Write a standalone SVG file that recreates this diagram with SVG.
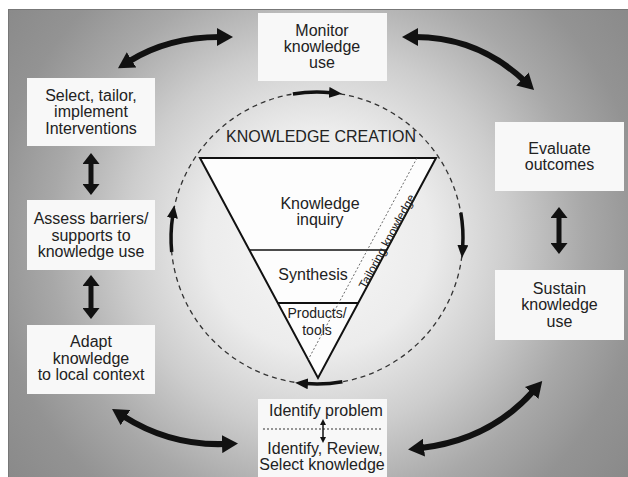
<svg xmlns="http://www.w3.org/2000/svg" width="628" height="477" viewBox="0 0 628 477">
<style>
.t{font-family:"Liberation Sans",Arial,sans-serif;font-size:16px;fill:#222;text-anchor:middle}
.box{fill:#f8f8f8}
.big{fill:none;stroke:#111;stroke-width:6}
.mid{fill:none;stroke:#111;stroke-width:5}
.cir{fill:none;stroke:#111;stroke-width:3.5}
</style>
<defs>
<radialGradient id="bg" gradientUnits="userSpaceOnUse" cx="318" cy="240" r="400">
<stop offset="0" stop-color="#f8f8f8"/>
<stop offset="0.28" stop-color="#ececec"/>
<stop offset="0.48" stop-color="#cdcdcd"/>
<stop offset="0.67" stop-color="#a8a8a8"/>
<stop offset="0.82" stop-color="#939393"/>
<stop offset="1" stop-color="#888"/>
</radialGradient>
<marker id="hb" markerUnits="userSpaceOnUse" viewBox="0 0 16 18" markerWidth="16" markerHeight="18" refX="3" refY="9" orient="auto-start-reverse"><path d="M0,0 L16,9 L0,18 z" fill="#111"/></marker>
<marker id="hm" markerUnits="userSpaceOnUse" viewBox="0 0 11 17" markerWidth="11" markerHeight="17" refX="2" refY="8.5" orient="auto-start-reverse"><path d="M0,0 L11,8.5 L0,17 z" fill="#111"/></marker>
<marker id="hs" markerUnits="userSpaceOnUse" viewBox="0 0 13 11" markerWidth="13" markerHeight="11" refX="2" refY="5.5" orient="auto"><path d="M0,0 L13,5.5 L0,11 z" fill="#111"/></marker>
<marker id="ht" markerUnits="userSpaceOnUse" viewBox="0 0 6 6" markerWidth="6" markerHeight="6" refX="1" refY="3" orient="auto-start-reverse"><path d="M0,0 L6,3 L0,6 z" fill="#111"/></marker>
</defs>
<rect x="0" y="0" width="628" height="477" fill="#fff"/>
<rect x="8.5" y="9.5" width="625" height="475" fill="url(#bg)" stroke="#777" stroke-width="1"/>

<g id="knowledge-creation">
<circle cx="317" cy="238" r="146" fill="none" stroke="#333" stroke-width="1.3" stroke-dasharray="5 4"/>
<polygon points="200,158 436,158 318,378" fill="#fdfdfd" stroke="#111" stroke-width="2"/>
<line x1="249.3" y1="250" x2="386.7" y2="250" stroke="#111" stroke-width="1.3"/>
<line x1="277.8" y1="303" x2="358.2" y2="303" stroke="#111" stroke-width="2"/>
<line x1="417" y1="158" x2="308" y2="360" stroke="#444" stroke-width="0.8" stroke-dasharray="2 2"/>
<text class="t" x="321" y="142">KNOWLEDGE CREATION</text>
<text class="t" x="320" y="209">Knowledge</text>
<text class="t" x="320" y="225">inquiry</text>
<text class="t" x="313" y="280">Synthesis</text>
<text class="t" x="317" y="318" style="font-size:14px">Products/</text>
<text class="t" x="317" y="335" style="font-size:14px">tools</text>
<text class="t" x="0" y="0" style="font-size:12px" transform="translate(390.5,243.5) rotate(-61.6)">Tailoring knowledge</text>
</g>

<g id="monitor">
<rect class="box" x="258" y="13" width="129" height="68"/>
<text class="t" x="322" y="36">Monitor</text>
<text class="t" x="322" y="52">knowledge</text>
<text class="t" x="322" y="68">use</text>
</g>
<g id="select">
<rect class="box" x="27" y="78" width="128" height="68"/>
<text class="t" x="91" y="101">Select, tailor,</text>
<text class="t" x="91" y="117">implement</text>
<text class="t" x="91" y="134">Interventions</text>
</g>
<g id="assess">
<rect class="box" x="27" y="200" width="128" height="70"/>
<text class="t" x="91" y="224">Assess barriers/</text>
<text class="t" x="91" y="240.5">supports to</text>
<text class="t" x="91" y="257">knowledge use</text>
</g>
<g id="adapt">
<rect class="box" x="27" y="325" width="128" height="69"/>
<text class="t" x="91" y="347">Adapt</text>
<text class="t" x="91" y="364">knowledge</text>
<text class="t" x="91" y="380">to local context</text>
</g>
<g id="evaluate">
<rect class="box" x="495" y="122" width="129" height="69"/>
<text class="t" x="559.5" y="154">Evaluate</text>
<text class="t" x="559.5" y="170">outcomes</text>
</g>
<g id="sustain">
<rect class="box" x="495" y="270" width="129" height="70"/>
<text class="t" x="559.5" y="294">Sustain</text>
<text class="t" x="559.5" y="310">knowledge</text>
<text class="t" x="559.5" y="327">use</text>
</g>
<g id="identify">
<rect class="box" x="258" y="399" width="129" height="80"/>
<text class="t" x="326" y="416">Identify problem</text>
<line x1="263" y1="429" x2="382" y2="429" stroke="#333" stroke-width="1" stroke-dasharray="2 2"/>
<line x1="323" y1="424" x2="323" y2="438" stroke="#111" stroke-width="1.5" marker-start="url(#ht)" marker-end="url(#ht)"/>
<text class="t" x="325" y="454">Identify, Review,</text>
<text class="t" x="322" y="470">Select knowledge</text>
</g>

<g id="connectors">
<path class="big" d="M129,61.4 Q168,37 220,37" marker-start="url(#hb)" marker-end="url(#hb)"/>
<path class="big" d="M415,37 Q478,37 524.6,81" marker-start="url(#hb)" marker-end="url(#hb)"/>
<path class="big" d="M123,416 Q170,446 225,444" marker-start="url(#hb)" marker-end="url(#hb)"/>
<path class="big" d="M421,448 Q490,440 533.6,390.7" marker-start="url(#hb)" marker-end="url(#hb)"/>
<path class="mid" d="M91,162 L91,186" marker-start="url(#hm)" marker-end="url(#hm)"/>
<path class="mid" d="M91,284 L91,310" marker-start="url(#hm)" marker-end="url(#hm)"/>
<path class="mid" d="M559,216 L559,245" marker-start="url(#hm)" marker-end="url(#hm)"/>
<path class="cir" d="M292.9,94 A146,146 0 0 1 331,92.7" marker-end="url(#hs)"/>
<path class="cir" d="M460.8,212.6 A146,146 0 0 1 462.7,246.9" marker-end="url(#hs)"/>
<path class="cir" d="M342.4,381.8 A146,146 0 0 1 306,383.6" marker-end="url(#hs)"/>
<path class="cir" d="M171.7,252 A146,146 0 0 1 172.7,216" marker-end="url(#hs)"/>
</g>
</svg>
